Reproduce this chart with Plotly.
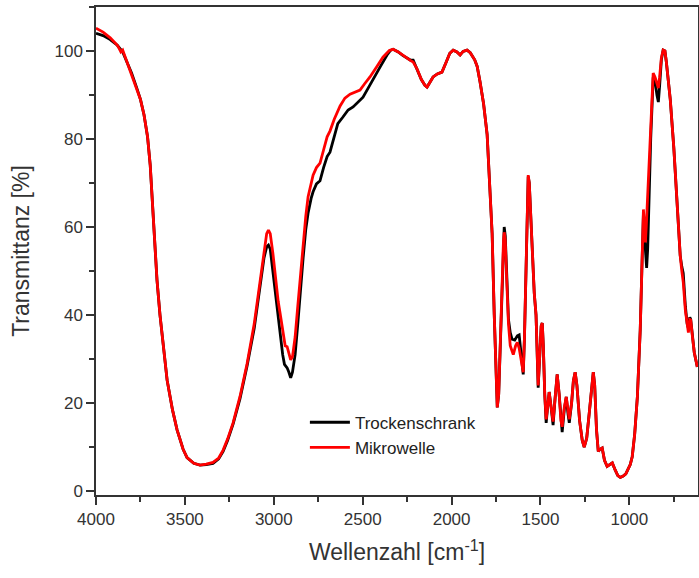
import plotly.graph_objects as go

# Trockenschrank (black)
wn_trocken = [4000, 3960, 3920, 3880, 3850, 3830, 3800, 3770, 3750, 3730, 3710, 3695, 3680, 3670, 3657, 3640,
              3620, 3600, 3570, 3544, 3510, 3488, 3450, 3415, 3380, 3342, 3310, 3285, 3260, 3229, 3190, 3150,
              3110, 3077, 3055, 3040, 3030, 3020, 3005, 2990, 2975, 2965, 2950, 2940, 2925, 2915, 2905, 2895,
              2880, 2865, 2852, 2835, 2820, 2807, 2790, 2779, 2760, 2740, 2720, 2700, 2684, 2660, 2640, 2611,
              2582, 2554, 2525, 2498, 2470, 2442, 2400, 2363, 2345, 2329, 2300, 2275, 2250, 2230, 2216, 2195,
              2170, 2150, 2138, 2120, 2104, 2080, 2054, 2030, 2010, 1991, 1970, 1952, 1935, 1913, 1895, 1870,
              1856, 1840, 1820, 1800, 1785, 1772, 1760, 1750, 1743, 1735, 1725, 1715, 1708, 1704, 1698, 1690,
              1680, 1670, 1660, 1645, 1630, 1620, 1610, 1600, 1597, 1590, 1580, 1573, 1569, 1563, 1555, 1545,
              1535, 1525, 1518, 1513, 1505, 1496, 1490, 1484, 1476, 1468, 1460, 1451, 1440, 1429, 1418, 1406,
              1395, 1385, 1378, 1366, 1355, 1345, 1338, 1325, 1315, 1305, 1295, 1280, 1265, 1254, 1240, 1225,
              1212, 1203, 1195, 1185, 1175, 1165, 1153, 1140, 1125, 1110, 1096, 1080, 1065, 1051, 1035, 1020,
              1012, 995, 984, 970, 955, 945, 939, 930, 924, 921, 915, 908, 903, 897, 888, 880, 866, 855, 845,
              837, 830, 820, 810, 800, 792, 780, 770, 750, 730, 714, 705, 697, 685, 675, 668, 660, 655, 645,
              635, 618]
t_trocken = [104.0, 103.5, 102.6, 101.3, 99.8, 98.0, 95.0, 91.5, 89.0, 85.5, 80.5, 74.0, 63.0, 56.0, 48.0, 40.0,
             32.0, 25.2, 18.5, 13.9, 9.5, 7.6, 6.3, 5.9, 6.0, 6.3, 7.3, 9.0, 11.5, 15.2, 21.0, 28.5,
             37.0, 47.0, 53.0, 55.5, 55.9, 55.0, 50.0, 44.0, 39.0, 36.5, 31.0, 28.8, 28.0, 27.0, 25.7, 27.0,
             31.0, 38.0, 45.0, 53.0, 59.5, 63.2, 66.5, 68.0, 69.8, 70.5, 73.5, 76.0, 77.0, 80.5, 83.5, 85.0,
             86.6, 87.3, 88.5, 89.5, 91.5, 93.4, 96.5, 99.1, 100.1, 100.4, 99.8, 99.0, 98.4, 97.9, 97.9, 96.0,
             93.5, 92.2, 91.8, 93.0, 94.1, 94.8, 95.2, 97.5, 99.5, 100.2, 99.8, 99.1, 99.9, 100.2, 99.6, 98.0,
             96.5, 93.0, 88.0, 81.0, 70.0, 58.6, 40.0, 25.0, 19.0, 22.0, 35.0, 50.0, 58.0, 60.0, 58.0, 49.0,
             39.0, 36.0, 34.5, 34.3, 35.3, 35.5, 31.0, 27.0, 26.5, 35.0, 55.0, 68.0, 71.5, 70.0, 62.0, 52.0,
             45.0, 40.0, 31.0, 23.5, 30.0, 37.5, 38.2, 33.0, 22.0, 15.5, 19.0, 22.5, 19.0, 15.0, 21.0, 26.5,
             22.0, 15.5, 13.4, 18.5, 21.4, 17.5, 15.5, 20.0, 25.0, 27.0, 24.0, 16.0, 11.5, 10.0, 12.0, 18.0,
             24.0, 27.0, 24.0, 14.0, 9.0, 9.5, 9.8, 7.0, 5.6, 6.1, 6.4, 4.8, 3.5, 3.1, 3.4, 3.9,
             4.5, 6.0, 7.8, 13.0, 21.4, 30.0, 36.6, 50.0, 61.0, 63.0, 58.0, 52.0, 50.7, 55.0, 70.0, 80.0, 94.0, 93.0, 90.0,
             88.4, 92.0, 98.0, 100.2, 100.0, 97.5, 93.0, 89.0, 78.0, 64.0, 53.5, 51.0, 49.5, 42.0, 38.0, 37.0, 39.5, 39.0, 35.0,
             31.5, 28.2]

# Mikrowelle (red)
wn_mikro = [4000, 3960, 3920, 3880, 3870, 3860, 3850, 3830, 3800, 3770, 3750, 3730, 3710, 3695, 3680, 3670, 3657, 3640,
            3620, 3600, 3570, 3544, 3510, 3488, 3450, 3415, 3380, 3342, 3310, 3285, 3260, 3229, 3190, 3150,
            3110, 3077, 3055, 3040, 3030, 3020, 3005, 2990, 2975, 2965, 2950, 2936, 2925, 2915, 2905, 2895,
            2880, 2865, 2852, 2835, 2820, 2807, 2790, 2779, 2760, 2740, 2720, 2700, 2684, 2660, 2627, 2600,
            2571, 2540, 2515, 2490, 2459, 2420, 2386, 2350, 2329, 2300, 2275, 2250, 2230, 2216, 2195,
            2170, 2150, 2138, 2120, 2104, 2080, 2054, 2030, 2010, 1991, 1970, 1952, 1935, 1913, 1895, 1870,
            1856, 1840, 1820, 1800, 1785, 1772, 1760, 1750, 1743, 1735, 1725, 1715, 1708, 1704, 1698, 1690,
            1680, 1670, 1660, 1653, 1640, 1630, 1620, 1610, 1600, 1597, 1590, 1580, 1573, 1569, 1563, 1555, 1545,
            1535, 1525, 1518, 1513, 1505, 1496, 1490, 1484, 1476, 1468, 1460, 1451, 1440, 1429, 1418, 1406,
            1395, 1385, 1378, 1366, 1355, 1345, 1338, 1325, 1315, 1305, 1295, 1280, 1265, 1254, 1240, 1225,
            1212, 1203, 1195, 1185, 1175, 1165, 1153, 1140, 1125, 1110, 1096, 1080, 1065, 1051, 1035, 1020,
            1012, 995, 984, 970, 955, 945, 939, 930, 924, 921, 915, 910, 905, 895, 880, 866, 855, 845,
            837, 830, 820, 810, 800, 792, 780, 770, 750, 730, 714, 705, 697, 685, 675, 668, 660, 655, 645,
            635, 618]
t_mikro = [105.2, 104.3, 103.0, 101.3, 100.6, 99.8, 100.2, 98.0, 95.0, 91.5, 89.0, 85.5, 80.5, 74.0, 63.0, 56.0, 48.0, 40.0,
           32.0, 25.2, 18.5, 13.9, 9.5, 7.6, 6.3, 5.9, 6.1, 6.5, 7.5, 9.3, 11.8, 15.5, 21.5, 29.0,
           38.0, 48.0, 55.0, 58.5, 59.3, 58.5, 54.0, 48.0, 43.0, 40.5, 36.0, 33.0, 32.8, 31.0, 29.8, 30.5,
           35.0, 42.0, 48.0, 56.0, 62.5, 66.9, 70.0, 71.8, 73.5, 74.5, 77.5, 80.5, 81.8, 84.5, 87.5, 89.3,
           90.2, 90.6, 91.1, 92.5, 94.1, 96.5, 98.6, 100.1, 100.4, 99.8, 99.0, 98.4, 97.8, 97.5, 96.0,
           93.5, 92.2, 91.8, 93.0, 94.1, 94.8, 95.2, 97.5, 99.5, 100.2, 99.8, 99.1, 99.9, 100.2, 99.6, 98.0,
           96.5, 93.0, 88.0, 81.0, 70.0, 58.6, 40.0, 25.0, 19.0, 22.0, 35.0, 50.0, 57.0, 58.8, 57.0, 48.0,
           38.0, 33.0, 31.5, 31.0, 33.0, 33.8, 32.5, 30.0, 27.5, 27.0, 35.0, 55.0, 68.0, 71.8, 70.0, 62.0, 52.0,
           45.0, 40.0, 31.0, 24.0, 30.0, 37.5, 38.2, 33.0, 22.0, 16.3, 19.0, 22.5, 19.0, 15.8, 21.0, 26.5,
           22.0, 16.0, 14.6, 19.0, 21.4, 18.0, 16.3, 20.0, 25.0, 27.0, 24.0, 16.0, 11.5, 10.0, 12.0, 18.0,
           24.0, 27.0, 24.0, 14.0, 9.0, 9.5, 9.8, 7.0, 5.6, 6.1, 6.4, 4.8, 3.5, 3.1, 3.4, 3.9,
           4.5, 6.0, 7.8, 13.0, 21.4, 30.0, 36.6, 50.0, 62.0, 64.0, 60.0, 56.5, 60.0, 70.0, 84.0, 95.0, 94.0, 92.5,
           91.6, 94.0, 98.5, 100.2, 100.0, 97.5, 93.0, 89.0, 78.0, 64.0, 53.5, 50.0, 47.5, 41.0, 37.5, 36.0, 39.0, 38.9, 35.0,
           31.5, 28.2]

x_ticks = [4000, 3500, 3000, 2500, 2000, 1500, 1000]
y_ticks = [0, 20, 40, 60, 80, 100]

FONT = "Liberation Sans, Arial, sans-serif"

fig = go.Figure()
fig.add_trace(go.Scatter(x=wn_trocken, y=t_trocken, mode="lines", name="Trockenschrank",
                         line=dict(color="#000000", width=2.8)))
fig.add_trace(go.Scatter(x=wn_mikro, y=t_mikro, mode="lines", name="Mikrowelle",
                         line=dict(color="#ff0000", width=2.8)))

fig.update_layout(
    width=699, height=578,
    margin=dict(l=96, r=1, t=7, b=83, autoexpand=False),
    paper_bgcolor="white", plot_bgcolor="white",
    font=dict(family=FONT, color="#333333", size=17),
    showlegend=True,
    legend=dict(x=0.347, y=0.185, xanchor="left", yanchor="top", bgcolor="rgba(0,0,0,0)",
                font=dict(size=17, color="#222222"), tracegroupgap=0, itemwidth=40),
    xaxis=dict(range=[4000, 614], tickvals=x_ticks, ticks="outside", ticklen=8, tickwidth=1.5,
               tickcolor="#333333", showline=True, linecolor="#333333", linewidth=1.5, mirror=True,
               showgrid=False, zeroline=False, automargin=False,
               minor=dict(ticks="outside", ticklen=5, tickwidth=1.5, tickcolor="#333333", dtick=250, tick0=0),
               title=dict(text="Wellenzahl [cm<sup>-1</sup>]", font=dict(size=23, color="#333333"), standoff=16),
               tickfont=dict(size=17)),
    yaxis=dict(range=[-0.9, 110], tickvals=y_ticks, ticks="outside", ticklen=8, tickwidth=1.5,
               tickcolor="#333333", showline=True, linecolor="#333333", linewidth=1.5, mirror=True,
               showgrid=False, zeroline=False, automargin=False,
               minor=dict(ticks="outside", ticklen=5, tickwidth=1.5, tickcolor="#333333", dtick=10, tick0=0),
               title=dict(text="Transmittanz [%]", font=dict(size=23, color="#333333"), standoff=18),
               tickfont=dict(size=17)),
)

fig.write_html("out.html", config={"displayModeBar": False},
               post_script="document.body.style.margin='0';document.body.style.overflow='hidden';")
